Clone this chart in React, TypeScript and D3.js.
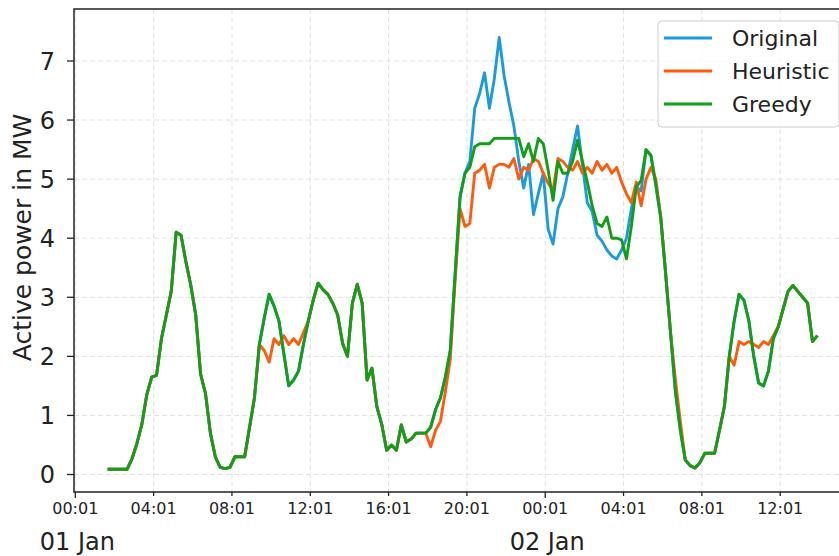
import React, { useEffect, useRef } from 'react';
import * as d3 from 'd3';

// 15-minute samples starting 01 Jan 01:40
const startTime = new Date(2019, 0, 1, 1, 40);
const stepMinutes = 15;

const original = [
  0.09, 0.09, 0.09, 0.09, 0.09, 0.27, 0.53, 0.85, 1.35, 1.65,
  1.68, 2.3, 2.7, 3.1, 4.1, 4.05, 3.6, 3.2, 2.7, 1.7,
  1.37, 0.7, 0.3, 0.12, 0.1, 0.12, 0.3, 0.3, 0.3, 0.8,
  1.3, 2.2, 2.65, 3.05, 2.85, 2.6, 2.05, 1.5, 1.6, 1.75,
  2.2, 2.6, 2.95, 3.24, 3.13, 3.05, 2.9, 2.7, 2.22, 2.0,
  2.9, 3.22, 2.9, 1.6, 1.8, 1.15, 0.85, 0.41, 0.5, 0.41,
  0.84, 0.55, 0.6, 0.7, 0.7, 0.7, 0.8, 1.1, 1.3, 1.65,
  2.1, 3.4, 4.7, 5.1, 5.3, 6.2, 6.45, 6.8, 6.2, 6.7,
  7.4, 6.75, 6.3, 5.9, 5.3, 4.85, 5.25, 4.4, 4.76, 5.1,
  4.15, 3.9, 4.5, 4.7, 5.1, 5.5, 5.9, 5.25, 4.6, 4.45,
  4.05, 3.95, 3.8, 3.7, 3.65, 3.8, 4.0, 4.5, 4.87, 4.8,
  5.5, 5.4, 4.9, 4.35, 3.4, 2.4, 1.4, 0.75, 0.25, 0.15,
  0.11, 0.2, 0.36, 0.36, 0.36, 0.75, 1.15, 2.0, 2.6, 3.05,
  2.95, 2.6, 2.0, 1.55, 1.5, 1.75, 2.3, 2.5, 2.8, 3.1,
  3.2, 3.1, 3.0, 2.9, 2.25, 2.35,
];

// where the heuristic schedule departs from the original (sample index, values)
const heuristicChanges = [
  { at: 31, values: [2.2, 2.1, 1.9, 2.3, 2.2, 2.35, 2.2, 2.3, 2.2, 2.4] },
  {
    at: 66,
    values: [
      0.47, 0.75, 0.9, 1.4, 1.95, 3.3, 4.5, 4.2, 4.25, 5.1,
      5.15, 5.25, 4.85, 5.2, 5.25, 5.25, 5.2, 5.35, 5.0, 5.2,
      5.15, 5.35, 5.3, 5.1, 4.93, 4.81, 5.35, 5.3, 5.2, 5.15,
      5.3, 5.1, 5.2, 5.1, 5.3, 5.15, 5.25, 5.1, 5.2, 4.95,
      4.75, 4.6, 4.95, 4.55, 5.0, 5.2, 5.0,
    ],
  },
  { at: 116, values: [1.6, 0.9] },
  { at: 128, values: [1.85, 2.25, 2.2, 2.25, 2.2, 2.15, 2.25, 2.2, 2.35] },
];

// where the greedy schedule departs from the original
const greedyChanges = [
  {
    at: 74,
    values: [
      5.2, 5.55, 5.6, 5.6, 5.6, 5.69, 5.69, 5.69, 5.69, 5.69,
      5.69, 5.38, 5.6, 5.3, 5.69, 5.6, 5.15, 4.64, 5.3, 5.1,
      5.1, 5.3, 5.66, 5.3, 4.95, 4.55, 4.25, 4.2, 4.36, 4.0,
      4.0, 3.97, 3.65, 4.2, 4.87, 4.98,
    ],
  },
];

const seriesNames = ['Original', 'Heuristic', 'Greedy'];
const seriesColors = ['#1a9be0', '#ff5a0f', '#11a015'];

const yTicks = [0, 1, 2, 3, 4, 5, 6, 7];
const xTickTimes = [
  new Date(2019, 0, 1, 0, 1), new Date(2019, 0, 1, 4, 1), new Date(2019, 0, 1, 8, 1),
  new Date(2019, 0, 1, 12, 1), new Date(2019, 0, 1, 16, 1), new Date(2019, 0, 1, 20, 1),
  new Date(2019, 0, 2, 0, 1), new Date(2019, 0, 2, 4, 1), new Date(2019, 0, 2, 8, 1),
  new Date(2019, 0, 2, 12, 1),
];
const dayTicks = [new Date(2019, 0, 1, 0, 1), new Date(2019, 0, 2, 0, 1)];

const applyChanges = (base, changes) => {
  const out = base.slice();
  changes.forEach(c => c.values.forEach((v, k) => { out[c.at + k] = v; }));
  return out;
};

const App = () => {
  const ref = useRef(null);

  useEffect(() => {
    const svg = d3.select(ref.current);
    svg.selectAll('*').remove();

    const left = 74, top = 9, right = 851, bottom = 492;
    const font = 'DejaVu Sans, sans-serif';

    const x = d3.scaleTime()
      .domain([new Date(2019, 0, 1, 0, -3), new Date(2019, 0, 2, 15, 38)])
      .range([left, right]);
    const y = d3.scaleLinear().domain([-0.296, 7.88]).range([bottom, top]);

    const times = original.map((_, i) => d3.timeMinute.offset(startTime, i * stepMinutes));
    const series = [
      original,
      applyChanges(original, heuristicChanges),
      applyChanges(original, greedyChanges),
    ];

    svg.append('rect').attr('width', 839).attr('height', 556).attr('fill', '#fff');

    // grid
    const grid = svg.append('g')
      .attr('stroke', '#e0e0e0')
      .attr('stroke-width', 1)
      .attr('stroke-dasharray', '5,3');
    grid.selectAll('.gy').data(yTicks).join('line')
      .attr('x1', left).attr('x2', right)
      .attr('y1', d => y(d)).attr('y2', d => y(d));
    grid.selectAll('.gx').data(xTickTimes).join('line')
      .attr('x1', d => x(d)).attr('x2', d => x(d))
      .attr('y1', top).attr('y2', bottom);

    svg.append('clipPath').attr('id', 'plot-clip')
      .append('rect').attr('x', left).attr('y', top)
      .attr('width', right - left).attr('height', bottom - top);

    const line = d3.line()
      .x((d, i) => x(times[i]))
      .y(d => y(d));

    svg.append('g').attr('clip-path', 'url(#plot-clip)')
      .selectAll('path').data(series).join('path')
      .attr('d', d => line(d))
      .attr('fill', 'none')
      .attr('stroke', (d, i) => seriesColors[i])
      .attr('stroke-width', 2.9)
      .attr('stroke-linejoin', 'round');

    // frame
    svg.append('rect')
      .attr('x', left).attr('y', top)
      .attr('width', right - left).attr('height', bottom - top)
      .attr('fill', 'none').attr('stroke', '#222').attr('stroke-width', 1.5);

    // y axis
    const yAx = svg.append('g');
    yAx.selectAll('line').data(yTicks).join('line')
      .attr('x1', left - 7).attr('x2', left)
      .attr('y1', d => y(d)).attr('y2', d => y(d))
      .attr('stroke', '#222').attr('stroke-width', 1.3);
    yAx.selectAll('text').data(yTicks).join('text')
      .attr('x', 55).attr('y', d => y(d) + 8.8)
      .attr('text-anchor', 'end')
      .style('font-family', font).style('font-size', '24px').style('fill', '#222')
      .text(d => d);

    // x axis
    const fmt = d3.timeFormat('%H:%M');
    const xAx = svg.append('g');
    xAx.selectAll('line').data(xTickTimes).join('line')
      .attr('x1', d => x(d)).attr('x2', d => x(d))
      .attr('y1', bottom).attr('y2', d => (d.getHours() === 0 ? bottom + 6 : bottom + 4))
      .attr('stroke', '#222').attr('stroke-width', 1.3);
    xAx.selectAll('text').data(xTickTimes).join('text')
      .attr('x', d => x(d)).attr('y', 514)
      .attr('text-anchor', 'middle')
      .style('font-family', font).style('font-size', '16px').style('fill', '#222')
      .text(d => fmt(d));
    svg.append('g').selectAll('text').data(dayTicks).join('text')
      .attr('x', d => x(d) + 2).attr('y', 550)
      .attr('text-anchor', 'middle')
      .style('font-family', font).style('font-size', '24px').style('fill', '#222')
      .text(d => d3.timeFormat('%d %b')(d));

    svg.append('text')
      .attr('transform', 'translate(31,237.5) rotate(-90)')
      .attr('text-anchor', 'middle')
      .style('font-family', font).style('font-size', '25px').style('fill', '#222')
      .text('Active power in MW');

    // legend
    const lg = svg.append('g');
    lg.append('rect')
      .attr('x', 658).attr('y', 21).attr('width', 181).attr('height', 106).attr('rx', 4)
      .attr('fill', '#fff').attr('fill-opacity', 0.8)
      .attr('stroke', '#cccccc').attr('stroke-width', 1);
    seriesNames.forEach((name, i) => {
      const ly = 38 + i * 33;
      lg.append('line')
        .attr('x1', 664).attr('x2', 712).attr('y1', ly).attr('y2', ly)
        .attr('stroke', seriesColors[i]).attr('stroke-width', 2.8);
      lg.append('text')
        .attr('x', 732).attr('y', ly + 8)
        .style('font-family', font).style('font-size', '22px').style('fill', '#222')
        .text(name);
    });
  }, []);

  return (
    <svg
      ref={ref}
      width={839}
      height={556}
      style={{ position: 'absolute', left: 0, top: 0, display: 'block' }}
    />
  );
};

export default App;
